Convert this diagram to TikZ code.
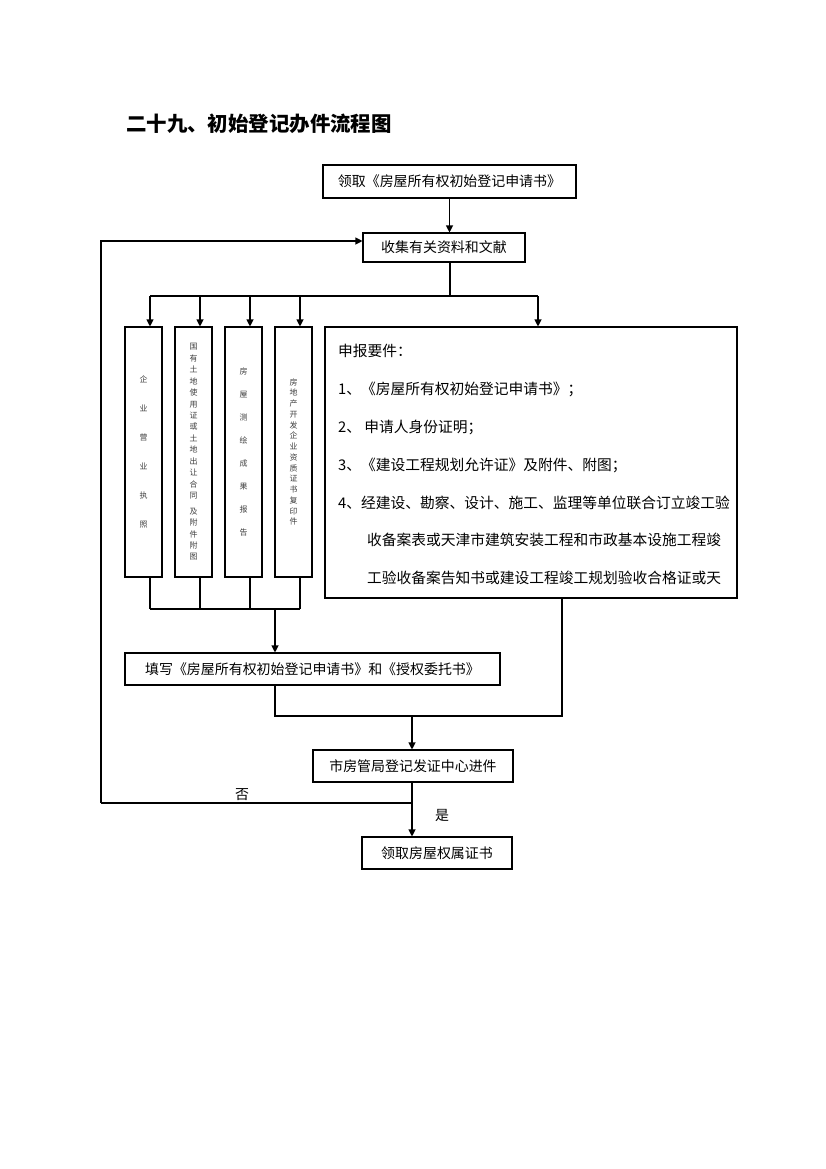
\documentclass[tikz,border=0pt]{standalone}
\usepackage{fontspec}
\newfontfamily\cjk{Noto Sans CJK SC}
\usetikzlibrary{arrows.meta}
\begin{document}
\begin{tikzpicture}[x=1bp,y=-1bp,
  box/.style={draw, line width=1.1bp, inner sep=0, font=\cjk\fontsize{14}{14}\selectfont},
  col/.style={draw, line width=1.1bp, inner sep=0, minimum width=37bp, minimum height=250bp, align=center, text=black!75},
  arr/.style={-{Triangle[length=7bp,width=7bp]}, line width=1.1bp},
  ln/.style={line width=1.1bp},
  lbl/.style={font=\cjk\fontsize{14}{14}\selectfont, inner sep=0}]
\useasboundingbox (0,0) rectangle (826,1169);
\fill[white] (0,0) rectangle (826,1169);

\node[font=\cjk\bfseries\fontsize{20.5}{21}\selectfont, anchor=west, inner sep=0] (title) at (126,124) {二十九、初始登记办件流程图};

\node[box, minimum width=253bp, minimum height=33bp] (b1) at (449.5,181.5) {\raisebox{-7bp}{领取《房屋所有权初始登记申请书》}};
\node[box, minimum width=162bp, minimum height=29bp] (b2) at (444,247.5) {\raisebox{-6bp}{收集有关资料和文献}};

\node[col, font=\cjk\fontsize{8}{29}\selectfont] (c1) at (143.5,452) {企\\业\\营\\业\\执\\照};
\node[col, font=\cjk\fontsize{8}{11.5}\selectfont] (c2) at (193.5,452) {国\\有\\土\\地\\使\\用\\证\\或\\土\\地\\出\\让\\合\\同\\[4bp]及\\附\\件\\附\\图};
\node[col, font=\cjk\fontsize{8}{23}\selectfont] (c3) at (243.5,452) {房\\屋\\测\\绘\\成\\果\\报\\告};
\node[col, font=\cjk\fontsize{8}{10.8}\selectfont] (c4) at (293.5,452) {房\\地\\产\\开\\发\\企\\业\\资\\质\\证\\书\\复\\印\\件};

\node[draw, line width=1.1bp, minimum width=412bp, minimum height=271bp, inner sep=0] (big) at (531,462.5) {};
\node[anchor=north west, align=left, inner sep=0, font=\cjk\fontsize{14.8}{38}\selectfont] (req) at (338,344) {申报要件：\\
1、《房屋所有权初始登记申请书》；\\
2、 申请人身份证明；\\
3、《建设工程规划允许证》及附件、附图；\\
4、经建设、勘察、设计、施工、监理等单位联合订立竣工验\\
\hspace*{29bp}收备案表或天津市建筑安装工程和市政基本设施工程竣\\
\hspace*{29bp}工验收备案告知书或建设工程竣工规划验收合格证或天};

\node[box, minimum width=375bp, minimum height=32bp] (b3) at (312.5,669) {\raisebox{-7bp}{填写《房屋所有权初始登记申请书》和《授权委托书》}};
\node[box, minimum width=200bp, minimum height=32bp] (b4) at (413,766) {\raisebox{-7bp}{市房管局登记发证中心进件}};
\node[box, minimum width=150bp, minimum height=32bp] (b5) at (437,853) {\raisebox{-7bp}{领取房屋权属证书}};

\node[lbl] (no) at (242,795) {否};
\node[lbl] (yes) at (442,815) {是};

% connectors
\draw[arr] (b1.south) -- (b1.south |- b2.north);
\coordinate (loopT) at (101,241);
\coordinate (loopB) at (101,803);
\draw[arr] (loopB) -- (loopT) -- (b2.west |- loopT);

\coordinate (split) at (450,296);
\coordinate (a1) at (150,296);
\coordinate (a2) at (200,296);
\coordinate (a3) at (250,296);
\coordinate (a4) at (300,296);
\coordinate (a5) at (538,296);
\draw[ln] (split |- b2.south) -- (split);
\draw[ln] (a1) -- (a5);
\draw[arr] (a1) -- (a1 |- c1.north);
\draw[arr] (a2) -- (a2 |- c2.north);
\draw[arr] (a3) -- (a3 |- c3.north);
\draw[arr] (a4) -- (a4 |- c4.north);
\draw[arr] (a5) -- (a5 |- big.north);

\coordinate (m1) at (150,609);
\coordinate (m4) at (300,609);
\coordinate (merge) at (275,609);
\draw[ln] (a1 |- c1.south) -- (m1);
\draw[ln] (a2 |- c2.south) -- (a2 |- m1);
\draw[ln] (a3 |- c3.south) -- (a3 |- m1);
\draw[ln] (a4 |- c4.south) -- (m4);
\draw[ln] (m1) -- (m4);
\draw[arr] (merge) -- (merge |- b3.north);

\coordinate (r1) at (275,716);
\coordinate (r2) at (562,716);
\coordinate (j) at (412,716);
\draw[ln] (r1 |- b3.south) -- (r1) -- (r2) -- (r2 |- big.south);
\draw[arr] (j) -- (j |- b4.north);

\coordinate (k) at (412,803);
\draw[arr] (k |- b4.south) -- (k |- b5.north);
\draw[ln] (k) -- (loopB);
\end{tikzpicture}
\end{document}
